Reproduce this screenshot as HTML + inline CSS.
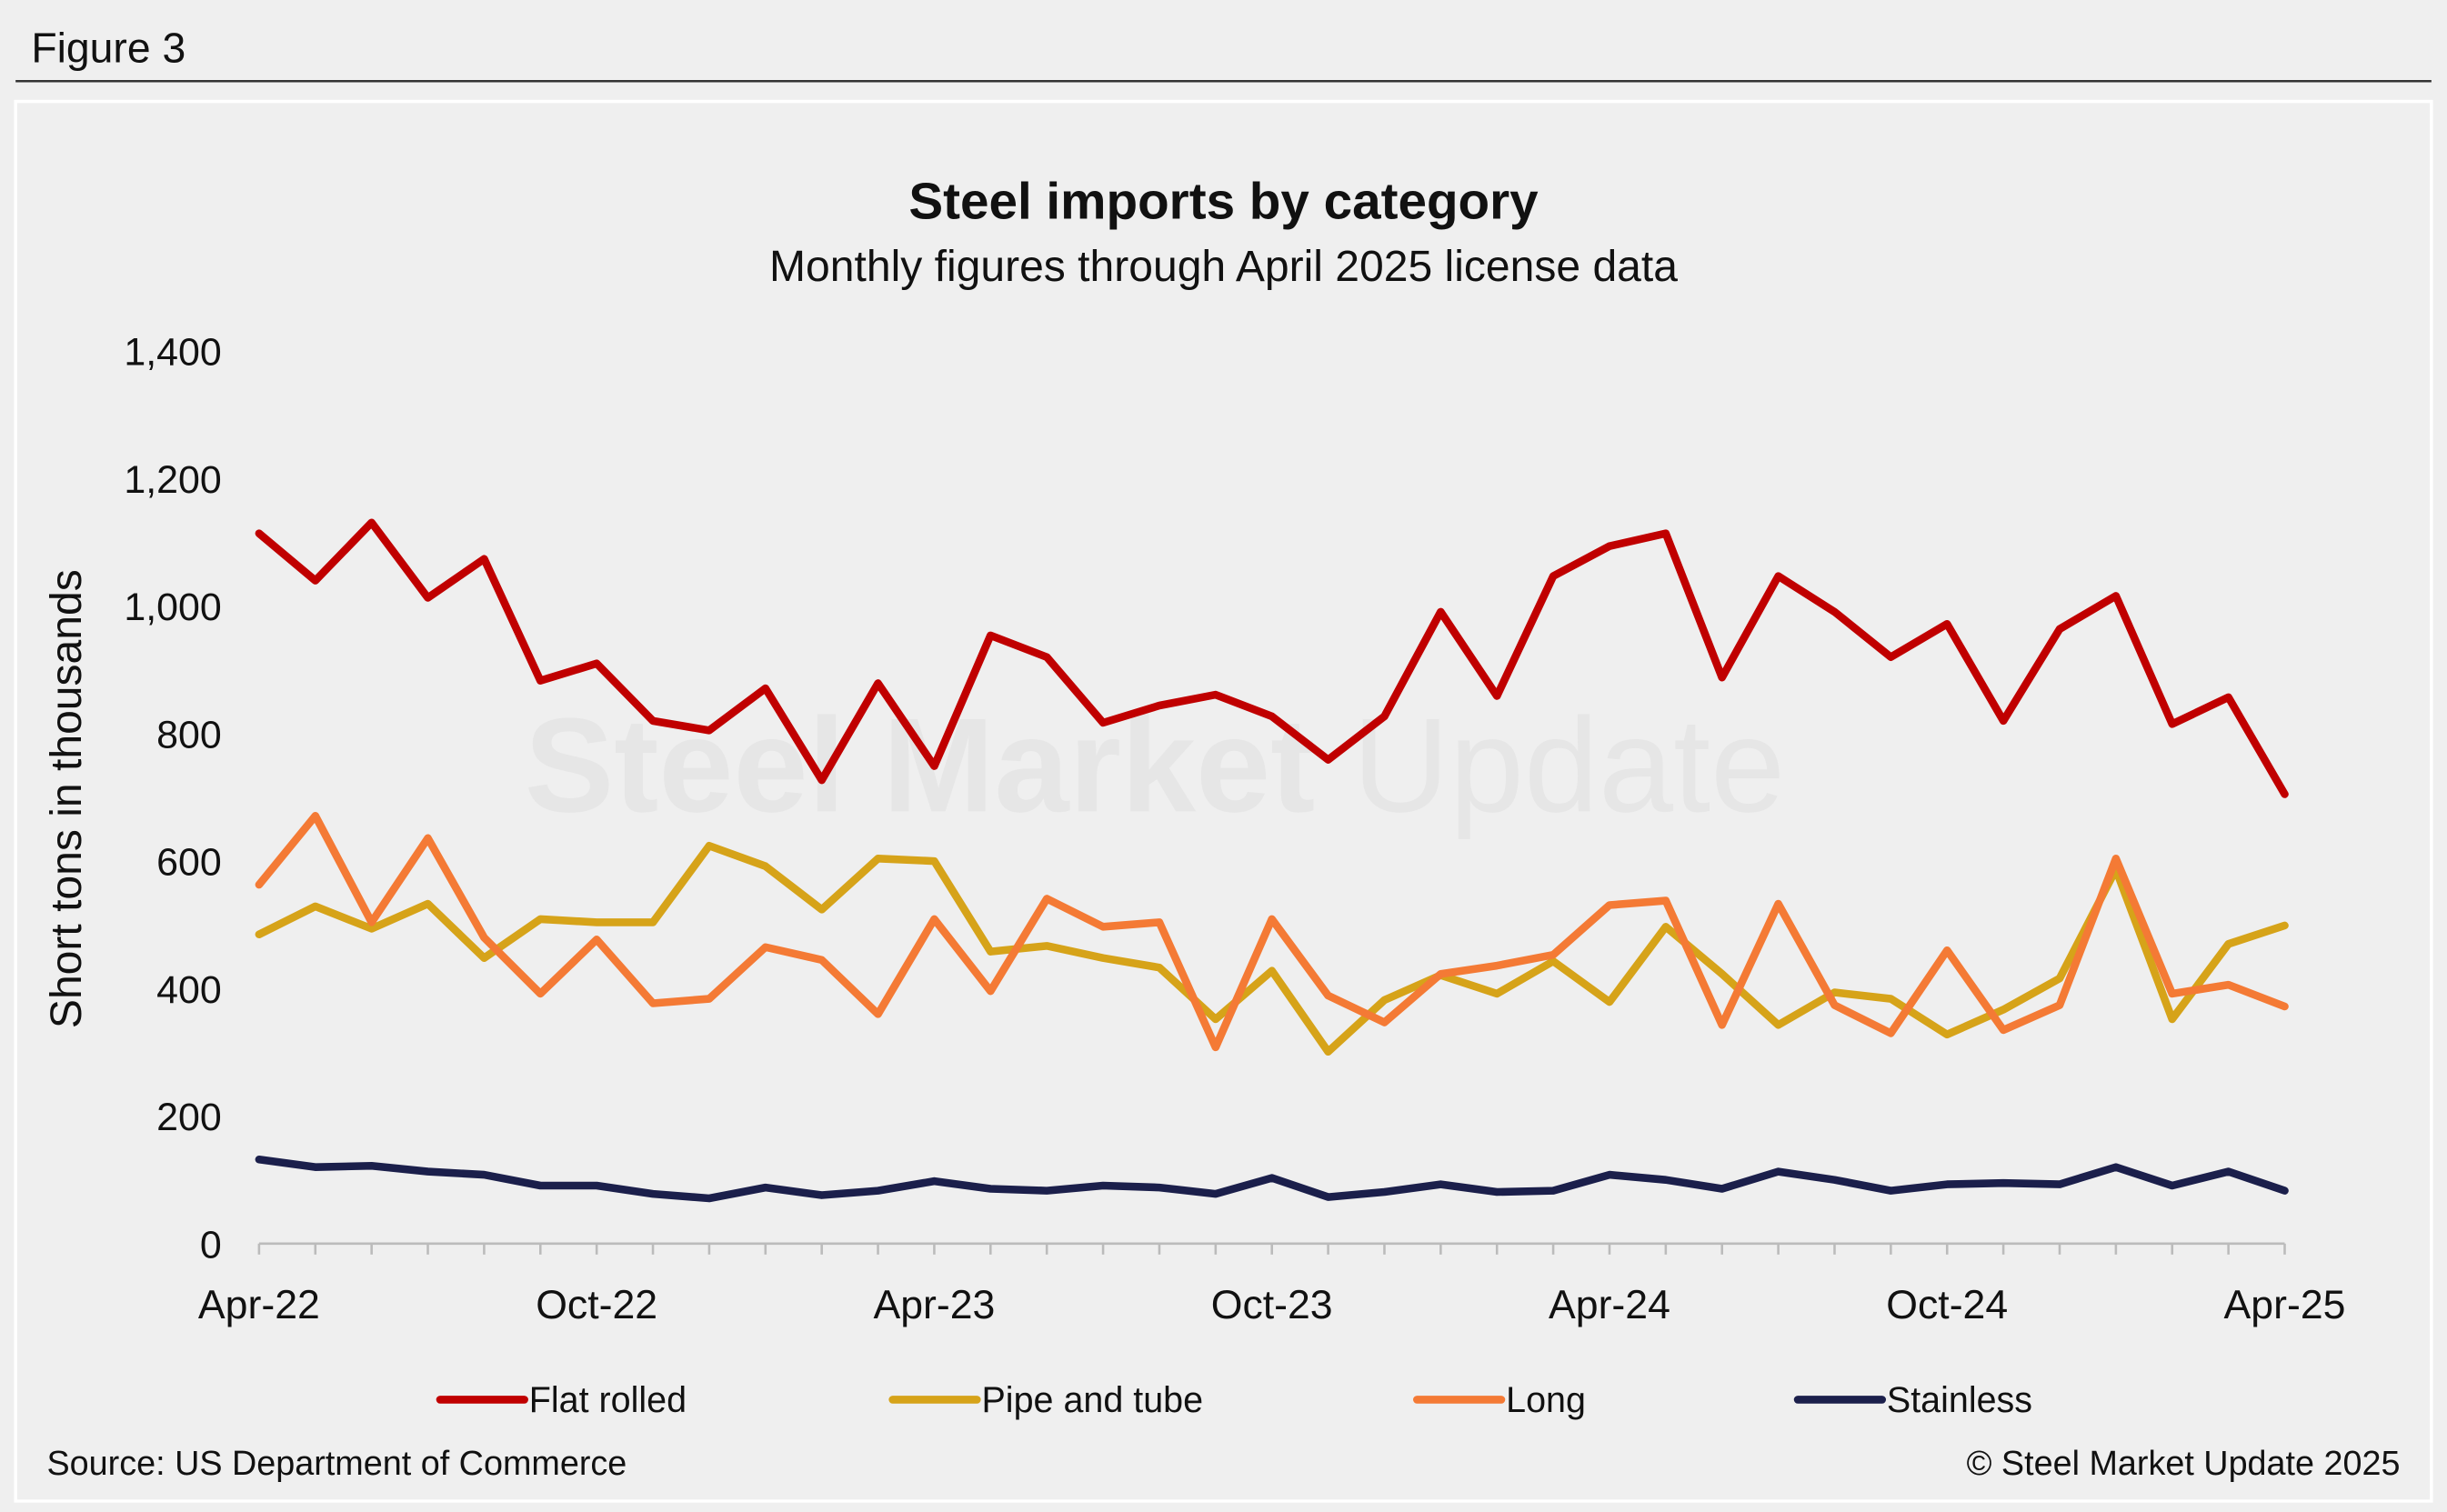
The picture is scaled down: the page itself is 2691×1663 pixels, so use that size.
<!DOCTYPE html>
<html><head><meta charset="utf-8"><style>
html,body{margin:0;padding:0;background:#efefef;}
svg{display:block;font-family:"Liberation Sans",Arial,sans-serif;}
</style></head><body>
<svg id="chart" width="2691" height="1663" viewBox="0 0 1568 969" xmlns="http://www.w3.org/2000/svg">
<rect x="0" y="0" width="1568" height="969" fill="#efefef"/>
<text x="20" y="40" font-size="27" fill="#111">Figure 3</text>
<line x1="10" y1="52" x2="1558" y2="52" stroke="#333" stroke-width="1.5"/>
<rect x="10" y="65" width="1548" height="897" fill="#efefef" stroke="#fff" stroke-width="2"/>
<text x="740" y="520" font-size="86" font-weight="bold" fill="#e6e6e6" text-anchor="middle">Steel Market <tspan font-weight="normal">Update</tspan></text>
<text x="784" y="140" font-size="33" font-weight="bold" text-anchor="middle" fill="#111">Steel imports by category</text>
<text x="784" y="180" font-size="28" text-anchor="middle" fill="#111">Monthly figures through April 2025 license data</text>
<text transform="translate(52,512) rotate(-90)" font-size="28" text-anchor="middle" fill="#111">Short tons in thousands</text>
<g id="axes"></g>
<g id="series"></g>
<g id="legend"></g>
<text x="30" y="945" font-size="22" fill="#111">Source: US Department of Commerce</text>
<text x="1538" y="945" font-size="22" fill="#111" text-anchor="end">© Steel Market Update 2025</text>
</svg>
<script>
const yTicks = [0,200,400,600,800,1000,1200,1400];
const xLabels = ["Apr-22","Oct-22","Apr-23","Oct-23","Apr-24","Oct-24","Apr-25"];
const flatRolled = [1114,1040,1131,1013,1074,883,910,820,805,871,727,879,749,954,920,817,844,861,827,759,827,991,859,1047,1094,1114,888,1047,991,920,972,820,964,1016,815,857,705];
const pipeTube = [485,529,494,533,448,509,504,504,624,592,524,604,600,458,467,448,433,352,428,301,382,421,392,443,379,497,423,343,394,384,328,367,416,587,352,470,499];
const longProducts = [563,671,504,636,480,392,477,377,384,465,445,360,509,396,541,497,504,308,509,389,347,423,436,453,531,538,343,533,374,330,460,335,374,604,392,406,372];
const stainless = [132,120,122,113,108,91,91,78,71,88,76,83,98,86,83,91,88,78,103,73,81,93,81,83,108,100,86,113,100,83,93,95,93,120,91,113,83];
const seriesNames = ["Flat rolled","Pipe and tube","Long","Stainless"];
const seriesColors = ["#c00000","#d6a319","#f47a35","#1b1f4b"];

const NS="http://www.w3.org/2000/svg";
const X0=166,X1=1464,Y0=797,Y1=225,YMAX=1400;
const nPts=flatRolled.length;
const xs=i=>X0+(X1-X0)*i/(nPts-1);
const ys=v=>Y0-(Y0-Y1)*v/YMAX;
function mk(tag,attrs,parent){const e=document.createElementNS(NS,tag);for(const k in attrs)e.setAttribute(k,attrs[k]);parent.appendChild(e);return e;}
const axes=document.getElementById('axes');
yTicks.forEach(v=>{
  const t=mk('text',{x:142,y:ys(v)+9,'font-size':25,'text-anchor':'end',fill:'#111'},axes);
  t.textContent=v.toLocaleString('en-US');
  
  
});
const ax=mk('line',{x1:X0,y1:Y0,x2:X1,y2:Y0,stroke:'#bbb','stroke-width':1.5},axes);


for(let i=0;i<nPts;i++){
  const tk=mk('line',{x1:xs(i),y1:Y0,x2:xs(i),y2:Y0+7,stroke:'#bbb','stroke-width':1.5},axes);
  
  
}
xLabels.forEach((l,j)=>{
  const t=mk('text',{x:xs(j*6),y:845,'font-size':26,'text-anchor':'middle',fill:'#111'},axes);
  t.textContent=l;
  
  
});
const sg=document.getElementById('series');
[flatRolled,pipeTube,longProducts,stainless].forEach((arr,k)=>{
  const d=arr.map((v,i)=>(i?'L':'M')+xs(i).toFixed(2)+','+ys(v).toFixed(2)).join(' ');
  const p=mk('path',{d:d,fill:'none',stroke:seriesColors[k],'stroke-width':5,'stroke-linejoin':'round','stroke-linecap':'round'},sg);
  
  
});
sg.appendChild(sg.children[0]);
const lg=document.getElementById('legend');
const legX=[282,572,908,1152];
seriesNames.forEach((n,k)=>{
  const g=mk('g',{},lg);
  
  
  mk('line',{x1:legX[k],y1:897,x2:legX[k]+54,y2:897,stroke:seriesColors[k],'stroke-width':5,'stroke-linecap':'round'},g);
  const t=mk('text',{x:legX[k]+57,y:905,'font-size':23,fill:'#111'},g);
  t.textContent=n;
});
</script>
</body></html>
